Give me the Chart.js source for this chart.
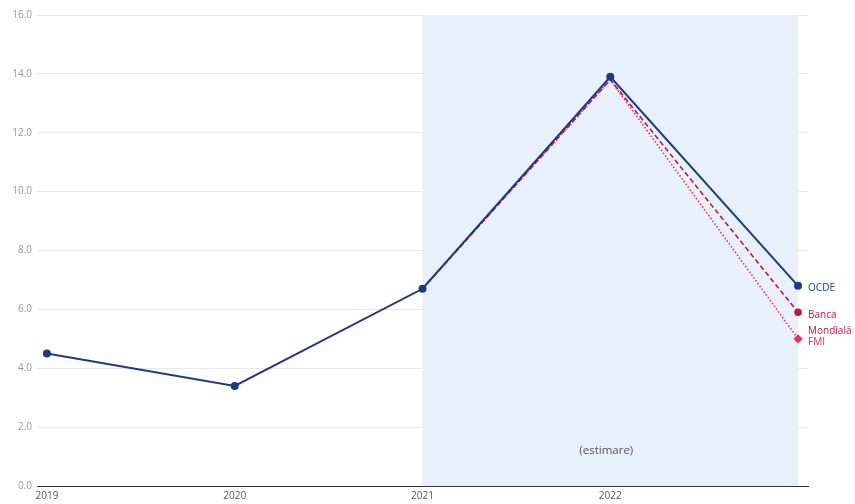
<!DOCTYPE html>
<html>
<head>
<meta charset="utf-8">
<script src="https://cdn.jsdelivr.net/npm/chart.js@4"></script>
<style>
  html, body { margin: 0; padding: 0; background: #fff; }
  #wrap { width: 855px; height: 504px; }
</style>
</head>
<body>
<div id="wrap"><canvas id="chart"></canvas></div>
<script>
const years = [2019, 2020, 2021, 2022, 2023];
const yearLabels = ['2019', '2020', '2021', '2022'];
const ocde = [4.5, 3.4, 6.7, 13.9, 6.8];
const bancaMondiala = [null, null, 6.7, 13.8, 5.9];
const fmi = [null, null, 6.7, 13.8, 5.0];
const yTicks = [0, 2, 4, 6, 8, 10, 12, 14, 16];
const estimateFrom = 2021;
const estimateTo = 2023;

const toPoints = arr => years.map((y, i) => ({ x: y, y: arr[i] }));
const lastOnly = r => years.map((y, i) => (i === years.length - 1 ? r : 0));

// shaded "estimare" band
const bandPlugin = {
  id: 'band',
  beforeDatasetsDraw(chart) {
    const { ctx, chartArea, scales } = chart;
    const x1 = scales.x.getPixelForValue(estimateFrom);
    const x2 = scales.x.getPixelForValue(estimateTo);
    ctx.save();
    ctx.fillStyle = '#e8f0fc';
    ctx.fillRect(x1, chartArea.top, x2 - x1, chartArea.bottom - chartArea.top);
    ctx.fillStyle = '#555';
    ctx.font = '11.5px "Open Sans"';
    ctx.textAlign = 'center';
    ctx.textBaseline = 'middle';
    ctx.fillText('(estimare)', scales.x.getPixelForValue(2022) - 4, chartArea.bottom - 35);
    ctx.restore();
  }
};

// series names next to the last points
const endLabels = {
  id: 'endLabels',
  afterDatasetsDraw(chart) {
    const { ctx, scales } = chart;
    const x = scales.x.getPixelForValue(2023) + 10;
    ctx.save();
    ctx.font = '10px "Open Sans"';
    ctx.textAlign = 'left';
    ctx.textBaseline = 'middle';
    ctx.fillStyle = '#1c3a87';
    ctx.fillText('OCDE', x, scales.y.getPixelForValue(ocde[4]) + 2);
    ctx.fillStyle = '#c0173f';
    ctx.fillText('Banca', x, scales.y.getPixelForValue(bancaMondiala[4]) + 3);
    ctx.fillText('Mondială', x, scales.y.getPixelForValue(bancaMondiala[4]) + 19);
    ctx.fillStyle = '#e0334f';
    ctx.fillText('FMI', x, scales.y.getPixelForValue(fmi[4]) + 3);
    ctx.restore();
  }
};

new Chart(document.getElementById('chart'), {
  type: 'line',
  data: {
    datasets: [
      {
        label: 'OCDE',
        data: toPoints(ocde),
        borderColor: '#1c3a87',
        backgroundColor: '#1c3a87',
        borderWidth: 2,
        pointRadius: 3,
        pointHoverRadius: 3
      },
      {
        label: 'Banca Mondială',
        data: toPoints(bancaMondiala),
        borderColor: '#c0173f',
        backgroundColor: '#c0173f',
        borderWidth: 1.6,
        borderDash: [5, 3],
        pointRadius: lastOnly(3)
      },
      {
        label: 'FMI',
        data: toPoints(fmi),
        borderColor: '#e8345a',
        backgroundColor: '#e8345a',
        borderWidth: 1.6,
        borderDash: [1.5, 2],
        pointStyle: 'rectRot',
        pointRadius: lastOnly(3.5)
      }
    ]
  },
  options: {
    responsive: true,
    maintainAspectRatio: false,
    animation: false,
    layout: { padding: { top: 15, right: 47, left: 0, bottom: 0 } },
    plugins: {
      legend: { display: false },
      tooltip: { enabled: false }
    },
    scales: {
      x: {
        type: 'linear',
        min: 2018.947,
        max: 2023.053,
        afterBuildTicks: axis => { axis.ticks = years.slice(0, 4).map(v => ({ value: v })); },
        ticks: {
          color: '#555',
          font: { family: 'Open Sans', size: 10 },
          padding: 4,
          callback: (v, i) => yearLabels[i]
        },
        grid: { display: false, drawTicks: false },
        border: { display: true, color: '#333', width: 1 },
        afterFit: s => { s.height = 18; }
      },
      y: {
        min: 0,
        max: 16,
        afterBuildTicks: axis => { axis.ticks = yTicks.map(v => ({ value: v })); },
        ticks: {
          color: '#999',
          font: { family: 'Open Sans', size: 10 },
          padding: 5,
          callback: v => v.toFixed(1)
        },
        grid: { color: '#e8e8e8', drawTicks: false },
        border: { display: false },
        afterFit: s => { s.width = 37; }
      }
    }
  },
  plugins: [bandPlugin, endLabels]
});
</script>
</body>
</html>
